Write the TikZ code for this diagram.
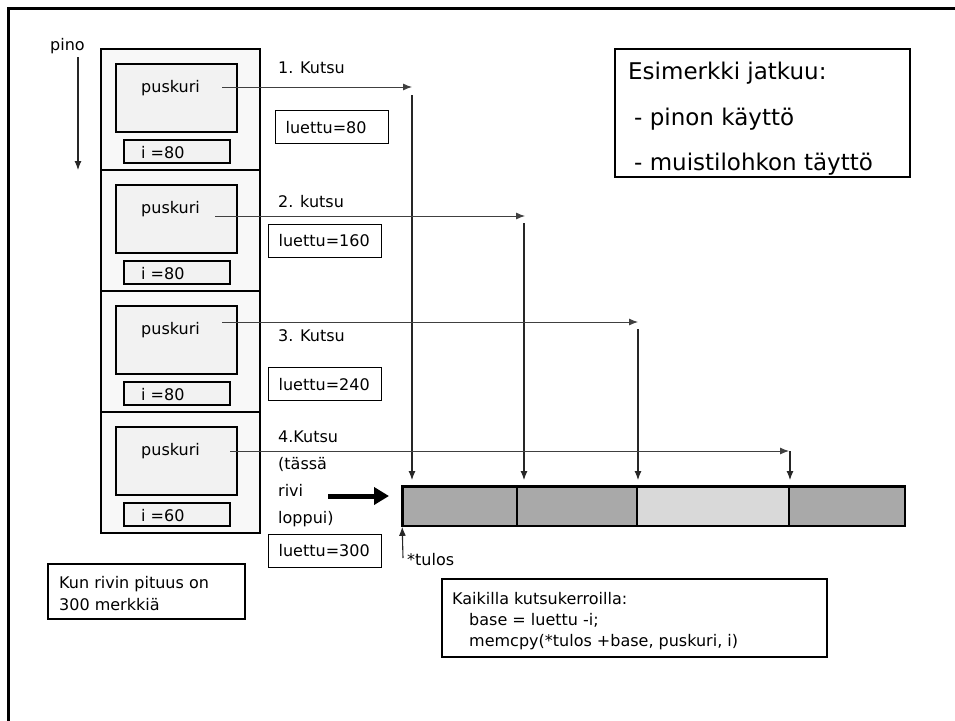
\documentclass[tikz,border=0pt]{standalone}
\usepackage{fontspec}
\setmainfont{DejaVu Sans}
\usetikzlibrary{arrows.meta,calc}
\definecolor{segdark}{HTML}{A9A9A9}
\definecolor{seglight}{HTML}{D9D9D9}
\definecolor{stackfill}{HTML}{F8F8F8}
\definecolor{boxfill}{HTML}{F2F2F2}
\begin{document}
\begin{tikzpicture}[x=1pt,y=-1pt,
  txt/.style={font=\fontsize{16}{20}\selectfont, inner sep=0pt},
  bigtxt/.style={font=\fontsize{23}{30}\selectfont, inner sep=0pt},
  stackframe/.style={draw, line width=1.3pt, fill=stackfill, minimum width=159pt, minimum height=121pt, inner sep=0pt},
  pbox/.style={draw, line width=1.3pt, fill=boxfill, minimum width=121pt, minimum height=68pt, inner sep=0pt},
  ibox/.style={draw, line width=1.3pt, fill=boxfill, minimum width=106pt, minimum height=23pt, inner sep=0pt},
  lbox/.style={draw, line width=1.3pt, fill=white, minimum height=33pt, text width=93pt, inner xsep=10pt, inner ysep=0pt, anchor=north west, font=\fontsize{16}{20}\selectfont},
  plainbox/.style={draw, line width=1.3pt, fill=white, inner sep=0pt},
  seg/.style={draw, line width=1.6pt, minimum height=39pt, inner sep=0pt},
  hconn/.style={draw=black!75, line width=0.9pt, -{Latex[length=9pt,width=7pt]}},
  vconn/.style={draw=black!85, line width=1.1pt, -{Latex[length=9pt,width=7pt]}},
  plainconn/.style={draw=black!85, line width=1.1pt}
]
\useasboundingbox (0,0) rectangle (955,720);
% slide frame (top and left edges visible)
\draw[line width=3pt] (8,721) -- (8,8) -- (956,8);

% pino label and arrow
\node[txt, anchor=base west] (pino) at (50,50) {pino};
\coordinate (pinoA) at (78,57);
\coordinate (pinoB) at (78,170);
\draw[vconn] (pinoA) -- (pinoB);

% stack frames
\foreach \k/\iv in {1/80,2/80,3/80,4/60} {
  \pgfmathsetmacro\ytop{49+121*(\k-1)}
  \node[stackframe] (f\k) at (180.5,\ytop+60.5) {};
  \node[pbox] (p\k) at (176.5,\ytop+49) {};
  \node[txt, anchor=base west] (pl\k) at (141,\ytop+43) {puskuri};
  \node[ibox] (i\k) at (177,\ytop+102.5) {};
  \node[txt, anchor=base west] (il\k) at (141,\ytop+109) {i =\iv};
}

% call labels
\node[txt, anchor=base west] (c1) at (278,73) {1. Kutsu};
\node[txt, anchor=base west] (c2) at (278,207) {2. kutsu};
\node[txt, anchor=base west] (c3) at (278,341) {3. Kutsu};
\node[txt, anchor=base west] (c4) at (278,442) {4.Kutsu};
\node[txt, anchor=base west] (c4a) at (278,469) {(tässä};
\node[txt, anchor=base west] (c4b) at (278,496) {rivi};
\node[txt, anchor=base west] (c4c) at (278,523) {loppui)};

% luettu boxes
\node[lbox] (l1) at (275,110) {luettu=80};
\node[lbox] (l2) at (268,223.5) {luettu=160};
\node[lbox] (l3) at (268,367) {luettu=240};
\node[lbox] (l4) at (268,533.5) {luettu=300};

% result buffer
\node[seg, fill=segdark, minimum width=114pt] (s1) at (460,506.5) {};
\node[seg, fill=segdark, minimum width=120pt] (s2) at (577,506.5) {};
\node[seg, fill=seglight, minimum width=152pt] (s3) at (713,506.5) {};
\node[seg, fill=segdark, minimum width=116pt] (s4) at (847,506.5) {};
\draw[line width=3pt] (s1.south west) -- (s1.north west) -- (s4.north east);

% call arrows
\coordinate (a1) at (222,87);   \coordinate (b1) at (412,87);
\coordinate (v1) at (412,95);   \coordinate (e1) at (412,480);
\coordinate (a2) at (215,216);  \coordinate (b2) at (525,216);
\coordinate (v2) at (524,223);  \coordinate (e2) at (524,480);
\coordinate (a3) at (222,322);  \coordinate (b3) at (638,322);
\coordinate (v3) at (638,329);  \coordinate (e3) at (638,480);
\coordinate (a4) at (230,451);  \coordinate (b4) at (789,451);
\coordinate (v4) at (790,451);  \coordinate (e4) at (790,480);
\draw[hconn] (a1) -- (b1);
\draw[vconn] (v1) -- (e1);
\draw[hconn] (a2) -- (b2);
\draw[vconn] (v2) -- (e2);
\draw[hconn] (a3) -- (b3);
\draw[vconn] (v3) -- (e3);
\draw[hconn] (a4) -- (b4);
\draw[vconn] (v4) -- (e4);

% thick arrow
\coordinate (ta) at (328,496);
\coordinate (tb) at (389,496);
\draw[line width=5pt, -{Triangle[length=15pt,width=17pt]}] (ta) -- (tb);

% *tulos
\node[txt, anchor=base west] (tulos) at (407,565) {*tulos};
\coordinate (tu) at (403,558);
\draw[vconn] (tu) -- (s1.south west);

% info box top right
\node[plainbox, minimum width=295pt, minimum height=128pt] (esim) at (762.5,113) {};
\node[bigtxt, anchor=base west] (e1t) at (628,79) {Esimerkki jatkuu:};
\node[bigtxt, anchor=base west] (e2t) at (634,125) {- pinon käyttö};
\node[bigtxt, anchor=base west] (e3t) at (634,170) {- muistilohkon täyttö};

% Kun box
\node[plainbox, minimum width=197pt, minimum height=55pt] (kun) at (146.5,591.5) {};
\node[txt, anchor=base west] (kun1) at (59,588) {Kun rivin pituus on};
\node[txt, anchor=base west] (kun2) at (59,610) {300 merkkiä};

% Kaikilla box
\node[plainbox, minimum width=385pt, minimum height=78pt] (kaik) at (634.5,618) {};
\node[txt, anchor=base west] (k1) at (452,604) {Kaikilla kutsukerroilla:};
\node[txt, anchor=base west] (k2) at (469,625) {base = luettu -i;};
\node[txt, anchor=base west] (k3) at (469,646) {memcpy(*tulos +base, puskuri, i)};
\end{tikzpicture}
\end{document}
